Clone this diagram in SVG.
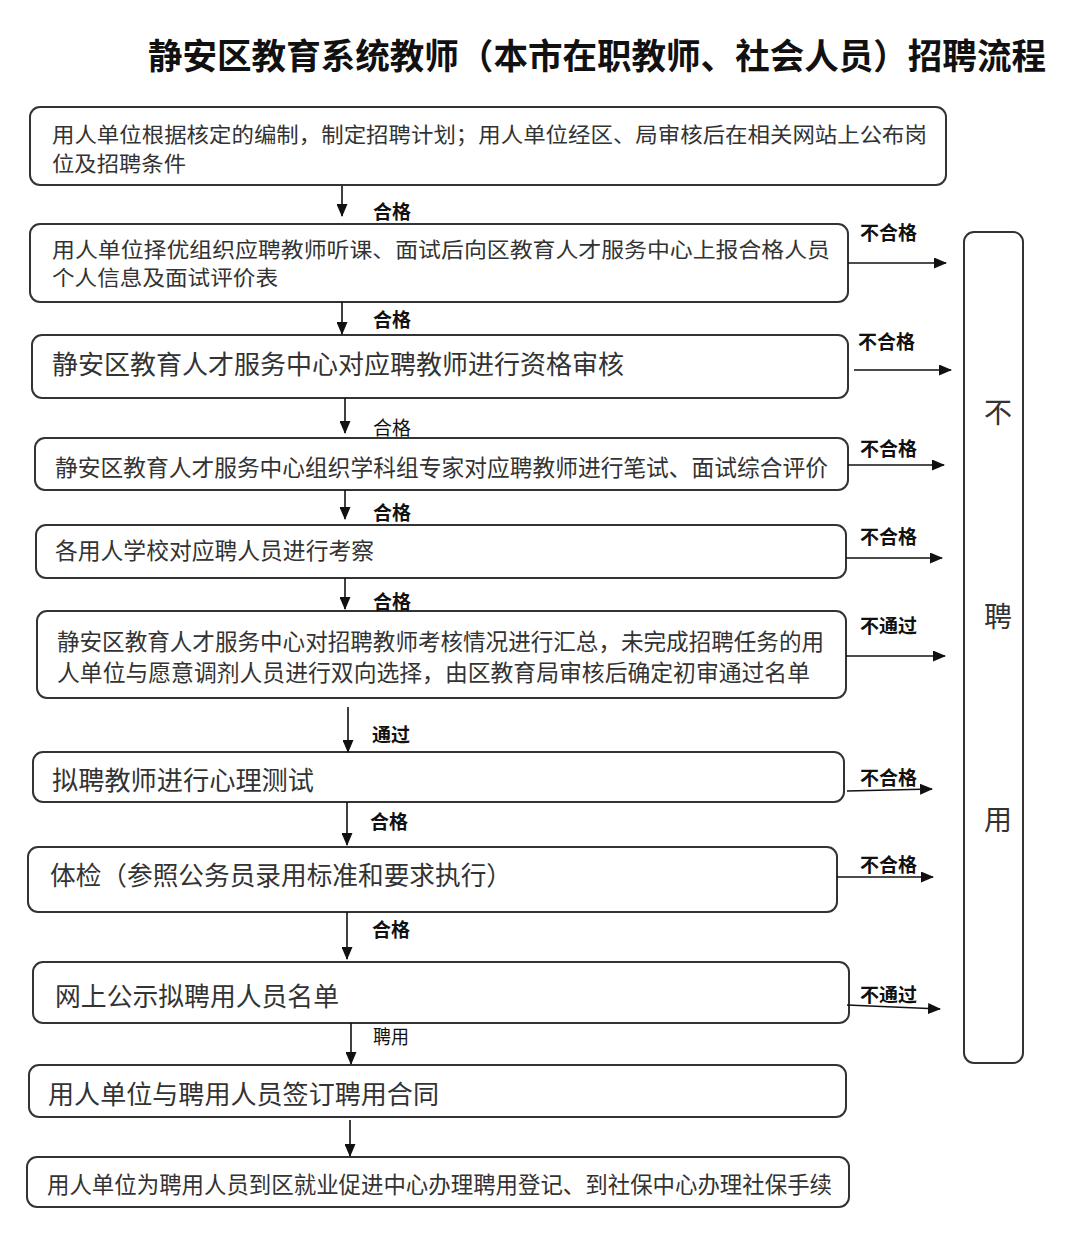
<svg xmlns="http://www.w3.org/2000/svg" width="1080" height="1253" viewBox="0 0 1080 1253">
<style>
.box{fill:#fff;stroke:#333;stroke-width:2}
.t{font-family:"Noto Sans CJK SC","Liberation Sans",sans-serif;fill:#333;font-weight:400}
.lb{font-family:"Noto Sans CJK SC","Liberation Sans",sans-serif;fill:#111;font-size:19px;font-weight:700}
.ln{font-family:"Noto Sans CJK SC","Liberation Sans",sans-serif;fill:#111;font-size:19px;font-weight:400}
.title{font-family:"Noto Sans CJK SC","Liberation Sans",sans-serif;fill:#111;font-size:35px;font-weight:700}
.c{stroke:#111;stroke-width:1.6;fill:none;marker-end:url(#ah)}
</style>
<defs>
<marker id="ah" markerUnits="userSpaceOnUse" markerWidth="13" markerHeight="11" refX="12" refY="5.5" orient="auto">
<path d="M0,0 L13,5.5 L0,11 Z" fill="#111"/>
</marker>
</defs>
<rect width="1080" height="1253" fill="#fff"/>
<text class="title" x="148" y="69" textLength="898" lengthAdjust="spacingAndGlyphs">静安区教育系统教师（本市在职教师、社会人员）招聘流程</text>

<g id="n1"><rect class="box" x="30" y="107" width="916" height="78" rx="10"/>
<text class="t" font-size="21" x="52" y="142" textLength="875" lengthAdjust="spacingAndGlyphs">用人单位根据核定的编制，制定招聘计划；用人单位经区、局审核后在相关网站上公布岗</text>
<text class="t" font-size="21" x="52" y="170.5" textLength="134" lengthAdjust="spacingAndGlyphs">位及招聘条件</text></g>

<g id="n2"><rect class="box" x="30" y="224" width="818" height="78" rx="10"/>
<text class="t" font-size="21" x="52" y="256.8" textLength="778" lengthAdjust="spacingAndGlyphs">用人单位择优组织应聘教师听课、面试后向区教育人才服务中心上报合格人员</text>
<text class="t" font-size="21" x="52" y="284.8" textLength="226" lengthAdjust="spacingAndGlyphs">个人信息及面试评价表</text></g>

<g id="n3"><rect class="box" x="32" y="335" width="816" height="63" rx="10"/>
<text class="t" font-size="26" x="52" y="373.6" textLength="572" lengthAdjust="spacingAndGlyphs">静安区教育人才服务中心对应聘教师进行资格审核</text></g>

<g id="n4"><rect class="box" x="35" y="438" width="813" height="52" rx="10"/>
<text class="t" font-size="23" x="55" y="475.5" textLength="773" lengthAdjust="spacingAndGlyphs">静安区教育人才服务中心组织学科组专家对应聘教师进行笔试、面试综合评价</text></g>

<g id="n5"><rect class="box" x="36" y="525" width="810" height="53" rx="10"/>
<text class="t" font-size="23" x="55" y="558.5" textLength="319" lengthAdjust="spacingAndGlyphs">各用人学校对应聘人员进行考察</text></g>

<g id="n6"><rect class="box" x="37" y="611" width="809" height="87" rx="10"/>
<text class="t" font-size="23" x="57" y="649.5" textLength="767" lengthAdjust="spacingAndGlyphs">静安区教育人才服务中心对招聘教师考核情况进行汇总，未完成招聘任务的用</text>
<text class="t" font-size="23" x="57" y="680.5" textLength="753" lengthAdjust="spacingAndGlyphs">人单位与愿意调剂人员进行双向选择，由区教育局审核后确定初审通过名单</text></g>

<g id="n7"><rect class="box" x="33" y="752" width="811" height="50" rx="10"/>
<text class="t" font-size="26" x="52" y="789.6" textLength="262" lengthAdjust="spacingAndGlyphs">拟聘教师进行心理测试</text></g>

<g id="n8"><rect class="box" x="28" y="847" width="809" height="65" rx="10"/>
<text class="t" font-size="26" x="50" y="884.6" textLength="462" lengthAdjust="spacingAndGlyphs">体检（参照公务员录用标准和要求执行）</text></g>

<g id="n9"><rect class="box" x="33" y="962" width="816" height="61" rx="10"/>
<text class="t" font-size="26" x="55" y="1005.6" textLength="284" lengthAdjust="spacingAndGlyphs">网上公示拟聘用人员名单</text></g>

<g id="n10"><rect class="box" x="29" y="1065" width="817" height="52" rx="10"/>
<text class="t" font-size="26" x="48" y="1103.6" textLength="391" lengthAdjust="spacingAndGlyphs">用人单位与聘用人员签订聘用合同</text></g>

<g id="n11"><rect class="box" x="27" y="1157" width="822" height="50" rx="10"/>
<text class="t" font-size="23" x="47" y="1192.5" textLength="785" lengthAdjust="spacingAndGlyphs">用人单位为聘用人员到区就业促进中心办理聘用登记、到社保中心办理社保手续</text></g>

<g id="reject"><rect class="box" x="964" y="232" width="59" height="831" rx="10"/>
<text class="t" font-size="28" x="998" y="423.4" text-anchor="middle">不</text>
<text class="t" font-size="28" x="998" y="627.4" text-anchor="middle">聘</text>
<text class="t" font-size="28" x="998" y="830.4" text-anchor="middle">用</text></g>

<g id="connectors">
<line class="c" x1="342" y1="186" x2="342" y2="216"/>
<line class="c" x1="342" y1="302" x2="342" y2="334"/>
<line class="c" x1="345" y1="398" x2="345" y2="433"/>
<line class="c" x1="345" y1="490" x2="345" y2="519"/>
<line class="c" x1="345" y1="578" x2="345" y2="609"/>
<line class="c" x1="348" y1="707" x2="348" y2="752"/>
<line class="c" x1="347" y1="802" x2="347" y2="845"/>
<line class="c" x1="347" y1="912" x2="347" y2="959"/>
<line class="c" x1="351" y1="1023" x2="351" y2="1064"/>
<line class="c" x1="350" y1="1120" x2="350" y2="1156"/>
<line class="c" x1="848" y1="263" x2="946" y2="263"/>
<line class="c" x1="854" y1="370" x2="951" y2="370"/>
<line class="c" x1="848" y1="465" x2="944" y2="465"/>
<line class="c" x1="846" y1="558" x2="942" y2="558"/>
<line class="c" x1="846" y1="656" x2="945" y2="656"/>
<line class="c" x1="847" y1="791" x2="932" y2="789"/>
<line class="c" x1="837" y1="877" x2="933" y2="877"/>
<line class="c" x1="847" y1="1005" x2="940" y2="1009"/>
<text class="lb" x="373" y="219" textLength="38" lengthAdjust="spacingAndGlyphs">合格</text>
<text class="lb" x="373" y="327" textLength="38" lengthAdjust="spacingAndGlyphs">合格</text>
<text class="ln" x="373" y="435" textLength="38" lengthAdjust="spacingAndGlyphs">合格</text>
<text class="lb" x="373" y="520" textLength="38" lengthAdjust="spacingAndGlyphs">合格</text>
<text class="lb" x="373" y="609" textLength="38" lengthAdjust="spacingAndGlyphs">合格</text>
<text class="lb" x="372" y="742" textLength="38" lengthAdjust="spacingAndGlyphs">通过</text>
<text class="lb" x="370" y="829" textLength="38" lengthAdjust="spacingAndGlyphs">合格</text>
<text class="lb" x="372" y="937" textLength="38" lengthAdjust="spacingAndGlyphs">合格</text>
<text class="ln" x="373" y="1044" textLength="36" lengthAdjust="spacingAndGlyphs">聘用</text>
<text class="lb" x="860" y="240" textLength="57" lengthAdjust="spacingAndGlyphs">不合格</text>
<text class="lb" x="858" y="349" textLength="57" lengthAdjust="spacingAndGlyphs">不合格</text>
<text class="lb" x="860" y="456" textLength="57" lengthAdjust="spacingAndGlyphs">不合格</text>
<text class="lb" x="860" y="544" textLength="57" lengthAdjust="spacingAndGlyphs">不合格</text>
<text class="lb" x="860" y="633" textLength="57" lengthAdjust="spacingAndGlyphs">不通过</text>
<text class="lb" x="860" y="785" textLength="57" lengthAdjust="spacingAndGlyphs">不合格</text>
<text class="lb" x="860" y="872" textLength="57" lengthAdjust="spacingAndGlyphs">不合格</text>
<text class="lb" x="860" y="1002" textLength="57" lengthAdjust="spacingAndGlyphs">不通过</text>
</g>
</svg>
